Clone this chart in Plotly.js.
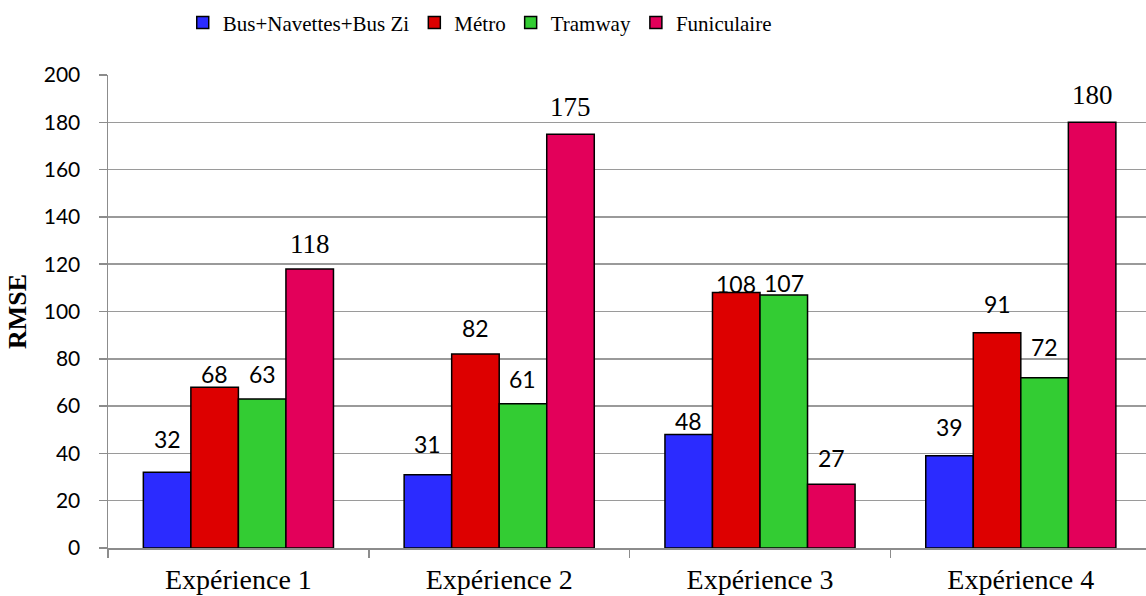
<!DOCTYPE html>
<html>
<head>
<meta charset="utf-8">
<script src="https://cdn.plot.ly/plotly-3.0.1.min.js"></script>
<style>html,body{margin:0;padding:0;background:#fff;}#chart{width:1146px;height:596px;}</style>
</head>
<body>
<div id="chart"></div>
<script>
// ---- data ----
const categories = ['Expérience 1', 'Expérience 2', 'Expérience 3', 'Expérience 4'];
const seriesNames = ['Bus+Navettes+Bus Zi', 'Métro', 'Tramway', 'Funiculaire'];
const busValues = [32, 31, 48, 39];
const metroValues = [68, 82, 108, 91];
const tramValues = [63, 61, 107, 72];
const funiValues = [118, 175, 27, 180];
const yTickValues = [0, 20, 40, 60, 80, 100, 120, 140, 160, 180, 200];

// ---- styles ----
const colors = ['#2b2bff', '#dd0000', '#33cc33', '#e3005a'];
const SANS = 'Lato, "Open Sans", sans-serif';
const SERIF = '"Liberation Serif", "Times New Roman", serif';
// label placement tweaks (px above bar top, label center), per series / category
const labelLift = [
  [33, 31, 13, 29],
  [13.5, 26, 9, 29],
  [25.5, 25, 11.5, 31],
  [25, 27, 26.5, 27]
];
const labelSerif = [
  [false, false, false, false],
  [false, false, false, false],
  [false, false, false, false],
  [true, true, false, true]
];

const allValues = [busValues, metroValues, tramValues, funiValues];
const bargap = 0.271;
const barW = (1 - bargap) / allValues.length;

const traces = allValues.map((vals, i) => ({
  type: 'bar',
  name: seriesNames[i],
  x: categories,
  y: vals,
  marker: { color: colors[i], line: { color: '#000', width: 1.5 } },
  hoverinfo: 'skip'
}));

const annotations = [];
allValues.forEach((vals, i) => {
  vals.forEach((v, c) => {
    const serif = labelSerif[i][c];
    annotations.push({
      xref: 'x', yref: 'y',
      x: c + (i - (allValues.length - 1) / 2) * barW,
      y: v,
      text: String(v),
      showarrow: false,
      xanchor: 'center', yanchor: 'middle',
      yshift: labelLift[i][c],
      font: { family: serif ? SERIF : SANS, size: serif ? 27 : 23, color: '#000' }
    });
  });
});

const layout = {
  width: 1146, height: 596,
  margin: { l: 108, r: 0, t: 75, b: 48 },
  paper_bgcolor: '#fff', plot_bgcolor: '#fff',
  barmode: 'group', bargap: bargap, bargroupgap: 0,
  showlegend: true,
  legend: {
    orientation: 'h', x: 0.072, xanchor: 'left', y: 1.11, yanchor: 'middle',
    font: { family: SERIF, size: 21, color: '#000' },
    itemwidth: 30, tracegroupgap: 0
  },
  xaxis: {
    type: 'category',
    range: [-0.5, 3.48],
    showline: true, linecolor: '#8c8c8c', linewidth: 1.5,
    ticks: 'outside', tickson: 'boundaries', ticklen: 8, tickcolor: '#8c8c8c', tickwidth: 1.5,
    ticklabelstandoff: 6,
    tickfont: { family: SERIF, size: 28, color: '#000' },
    showgrid: false, zeroline: false, fixedrange: true
  },
  yaxis: {
    range: [0, 200],
    tickvals: yTickValues,
    showline: true, linecolor: '#8c8c8c', linewidth: 1.5,
    ticks: 'outside', ticklen: 8, tickcolor: '#8c8c8c', tickwidth: 1.5,
    ticklabelstandoff: 14,
    tickfont: { family: SANS, size: 21, color: '#000' },
    showgrid: true, gridcolor: '#9a9a9a', gridwidth: 1.5,
    zeroline: false, fixedrange: true,
    title: { text: '<b>RMSE</b>', font: { family: SERIF, size: 26, color: '#000' }, standoff: 9 }
  },
  annotations: annotations
};

Plotly.newPlot('chart', traces, layout, { displayModeBar: false, staticPlot: true });
</script>
</body>
</html>
